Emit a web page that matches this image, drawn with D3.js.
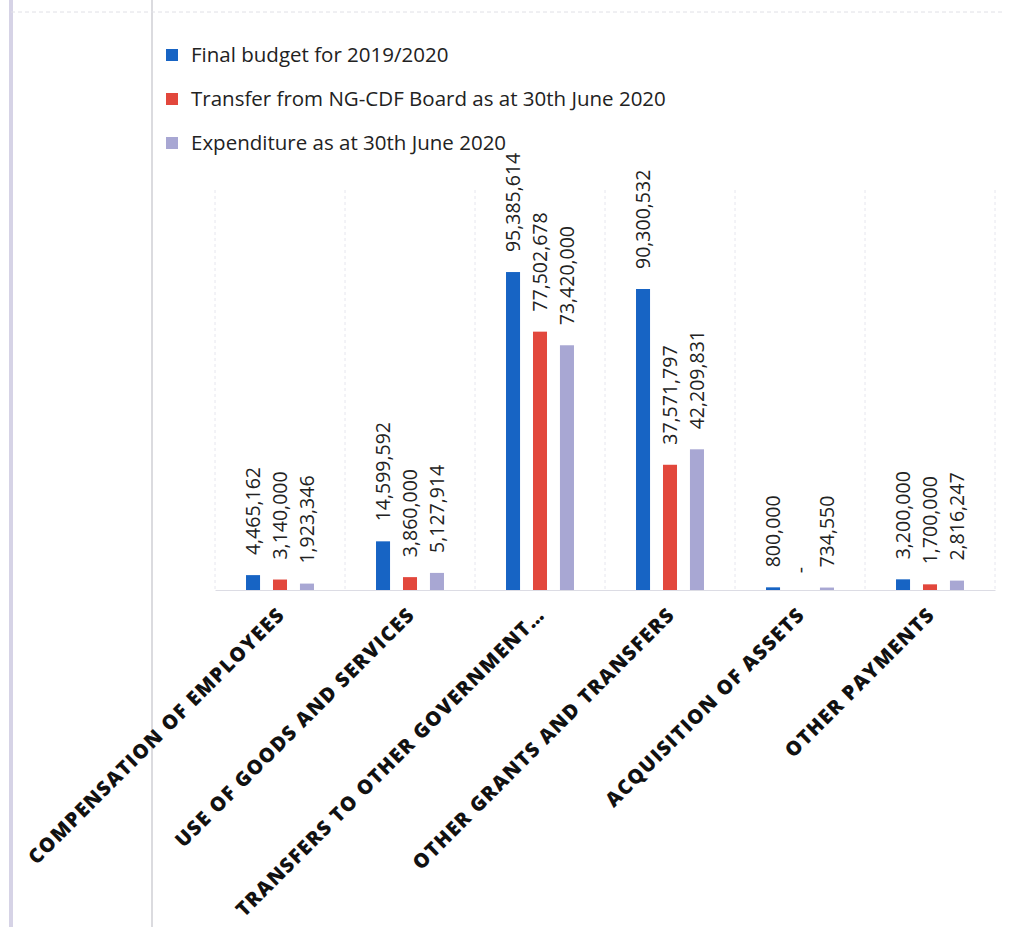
<!DOCTYPE html>
<html>
<head>
<meta charset="utf-8">
<script src="https://cdn.jsdelivr.net/npm/d3@7"></script>
<style>
  body { margin: 0; background: #fff; }
  .legendText { font-family: "Open Sans", sans-serif; font-size: 20.5px; fill: #222; }
  .valueLabel { font-family: "Open Sans", sans-serif; font-size: 19.5px; fill: #222; }
  .catLabel { font-family: "Open Sans", sans-serif; font-size: 20px; font-weight: 800; fill: #111; letter-spacing: 1.3px; }
</style>
</head>
<body>
<div class="visHolder"></div>
<script>
const categories = [
  "COMPENSATION OF EMPLOYEES",
  "USE OF GOODS AND SERVICES",
  "TRANSFERS TO OTHER GOVERNMENT…",
  "OTHER GRANTS AND TRANSFERS",
  "ACQUISITION OF ASSETS",
  "OTHER PAYMENTS"
];
const seriesNames = [
  "Final budget for 2019/2020",
  "Transfer from NG-CDF Board as at 30th June 2020",
  "Expenditure as at 30th June 2020"
];
const finalBudget = [4465162, 14599592, 95385614, 90300532, 800000, 3200000];
const transfers = [3140000, 3860000, 77502678, 37571797, 0, 1700000];
const expenditure = [1923346, 5127914, 73420000, 42209831, 734550, 2816247];
const colors = ["#1764c4", "#e2473c", "#a8a7d3"];

const width = 1014,
  height = 927,
  plotLeft = 215,
  plotRight = 995,
  plotTop = 190,
  plotBottom = 590;

const seriesValues = [finalBudget, transfers, expenditure];
const rows = categories.map((c, i) => ({
  category: c,
  values: seriesNames.map((s, j) => ({ series: s, idx: j, value: seriesValues[j][i] }))
}));

const svg = d3
  .select(".visHolder")
  .append("svg")
  .attr("width", width)
  .attr("height", height);

// page edges from the scanned document
svg.append("line").attr("x1", 11).attr("x2", 11).attr("y1", 0).attr("y2", height)
  .attr("stroke", "#d6d3e6").attr("stroke-width", 4);
svg.append("line").attr("x1", 152).attr("x2", 152).attr("y1", 0).attr("y2", height)
  .attr("stroke", "#cfcfd4").attr("stroke-width", 1.5);
svg.append("line").attr("x1", 11).attr("x2", 1005).attr("y1", 12).attr("y2", 12)
  .attr("stroke", "#e0e0e6").attr("stroke-width", 1).attr("stroke-dasharray", "4,3");

const x0 = d3.scaleBand().domain(categories).range([plotLeft, plotRight]);
const x1 = d3
  .scaleBand()
  .domain(seriesNames)
  .range([0, x0.bandwidth()])
  .paddingInner(0.48)
  .paddingOuter(1.15);
const y = d3.scaleLinear().domain([0, 120000000]).range([plotBottom, plotTop]);

// vertical gridlines between categories
const gridX = categories.map((c) => x0(c)).concat([plotRight]);
svg
  .append("g")
  .selectAll("line")
  .data(gridX)
  .enter()
  .append("line")
  .attr("x1", (d) => d)
  .attr("x2", (d) => d)
  .attr("y1", plotTop)
  .attr("y2", plotBottom)
  .attr("stroke", "#e6e6ee")
  .attr("stroke-dasharray", "3,3");

// baseline
svg
  .append("g")
  .attr("transform", "translate(0," + plotBottom + ")")
  .call(d3.axisBottom(x0).tickSize(0).tickFormat(""))
  .call((g) => g.select(".domain").attr("stroke", "#dcdce4"));

const groups = svg
  .append("g")
  .selectAll("g")
  .data(rows)
  .enter()
  .append("g")
  .attr("transform", (d) => "translate(" + x0(d.category) + ",0)");

groups
  .selectAll("rect")
  .data((d) => d.values)
  .enter()
  .append("rect")
  .attr("x", (d) => x1(d.series))
  .attr("y", (d) => y(d.value))
  .attr("width", x1.bandwidth())
  .attr("height", (d) => plotBottom - y(d.value))
  .attr("fill", (d) => colors[d.idx]);

groups
  .selectAll("text")
  .data((d) => d.values)
  .enter()
  .append("text")
  .attr("class", "valueLabel")
  .attr("transform", (d) => {
    const cx = x1(d.series) + x1.bandwidth() / 2 + 7;
    const cy = y(d.value) - 20;
    return "translate(" + cx + "," + cy + ") rotate(-90)";
  })
  .attr("text-anchor", (d) => (d.value === 0 ? "middle" : "start"))
  .text((d) => (d.value === 0 ? "-" : d3.format(",")(d.value)));

// category labels
svg
  .append("g")
  .selectAll("text")
  .data(categories)
  .enter()
  .append("text")
  .attr("class", "catLabel")
  .attr("transform", (d) => "translate(" + (x0(d) + x0.bandwidth() / 2 + 6) + ",616) rotate(-45)")
  .attr("text-anchor", "end")
  .text((d) => d);

// legend
const legend = svg
  .append("g")
  .selectAll("g")
  .data(seriesNames)
  .enter()
  .append("g")
  .attr("transform", (d, i) => "translate(166," + (55 + i * 44) + ")");

legend
  .append("rect")
  .attr("x", 0)
  .attr("y", -6)
  .attr("width", 12)
  .attr("height", 12)
  .attr("fill", (d, i) => colors[i]);

legend
  .append("text")
  .attr("class", "legendText")
  .attr("x", 25)
  .attr("y", 7)
  .text((d) => d);
</script>
</body>
</html>
